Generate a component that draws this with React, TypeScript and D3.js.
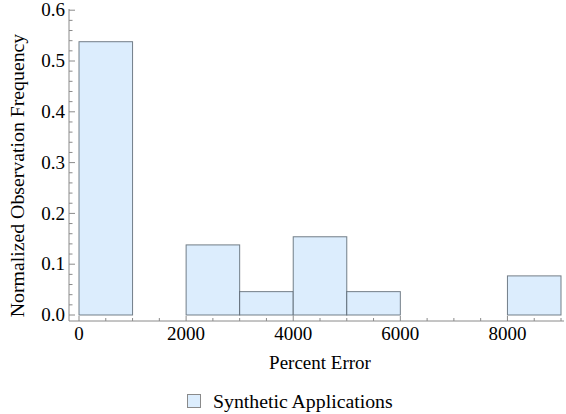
import React from "react";
import * as d3 from "d3";

const binStarts = [0, 1000, 2000, 3000, 4000, 5000, 6000, 7000, 8000];
const binValues = [0.538, 0, 0.138, 0.046, 0.154, 0.046, 0, 0, 0.077];
const xTickLabels = [0, 2000, 4000, 6000, 8000];
const yTickLabels = [0.0, 0.1, 0.2, 0.3, 0.4, 0.5, 0.6];
const binWidth = 1000;
const seriesName = "Synthetic Applications";

const W = 566, H = 414;
const FONT = "Liberation Serif, Times New Roman, DejaVu Serif, serif";

export default function App() {
  const x = d3.scaleLinear().domain([0, 9000]).range([79, 561]);
  const y = d3.scaleLinear().domain([0, 0.6]).range([315, 10.2]);
  const axisY = 321;
  const axisX = 69;
  const axisColor = "#8a8a8a";
  const xMinor = d3.range(0, 9001, 500);
  const yMinor = d3.range(0, 0.6001, 0.02);
  const txt = { fontFamily: FONT, fontSize: 19, fill: "#000" } as React.CSSProperties;
  const txt20 = { ...txt, fontSize: 19.8 } as React.CSSProperties;
  return (
    <div style={{ position: "absolute", left: 0, top: 0 }}>
      <svg width={W} height={H} style={{ display: "block", fontFamily: FONT }}>
        <rect width={W} height={H} fill="#fff" />
        {binStarts.map((s, i) =>
          binValues[i] > 0 ? (
            <rect
              key={i}
              x={x(s)}
              y={y(binValues[i])}
              width={x(s + binWidth) - x(s)}
              height={y(0) - y(binValues[i])}
              fill="#dcedfd"
              stroke="#4a5560"
              strokeOpacity={0.75}
              strokeWidth={1}
            />
          ) : null
        )}
        <line x1={axisX} x2={564} y1={axisY} y2={axisY} stroke={axisColor} strokeWidth={1} />
        <line x1={axisX} x2={axisX} y1={9} y2={axisY} stroke={axisColor} strokeWidth={1} />
        {xMinor.map((v) => (
          <line
            key={"xm" + v}
            x1={x(v)}
            x2={x(v)}
            y1={axisY}
            y2={axisY - (v % 2000 === 0 ? 5 : 3)}
            stroke={axisColor}
          />
        ))}
        {yMinor.map((v, i) => (
          <line
            key={"ym" + i}
            x1={axisX}
            x2={axisX + (i % 5 === 0 ? 6 : 3.5)}
            y1={y(v)}
            y2={y(v)}
            stroke={axisColor}
          />
        ))}
        {xTickLabels.map((v) => (
          <text key={"xl" + v} x={x(v)} y={340} textAnchor="middle" style={txt}>
            {v}
          </text>
        ))}
        {yTickLabels.map((v) => (
          <text key={"yl" + v} x={65} y={y(v)} dy="0.33em" textAnchor="end" style={txt}>
            {v.toFixed(1)}
          </text>
        ))}
        <text x={320} y={369} textAnchor="middle" style={txt}>
          Percent Error
        </text>
        <text transform={`translate(24, 175.5) rotate(-90)`} textAnchor="middle" style={txt20}>
          Normalized Observation Frequency
        </text>
        <rect x={187.5} y={394.5} width={13} height={13} fill="#dcedfd" stroke="#8a8a8a" />
        <text x={213} y={408} style={txt20}>
          {seriesName}
        </text>
      </svg>
    </div>
  );
}
